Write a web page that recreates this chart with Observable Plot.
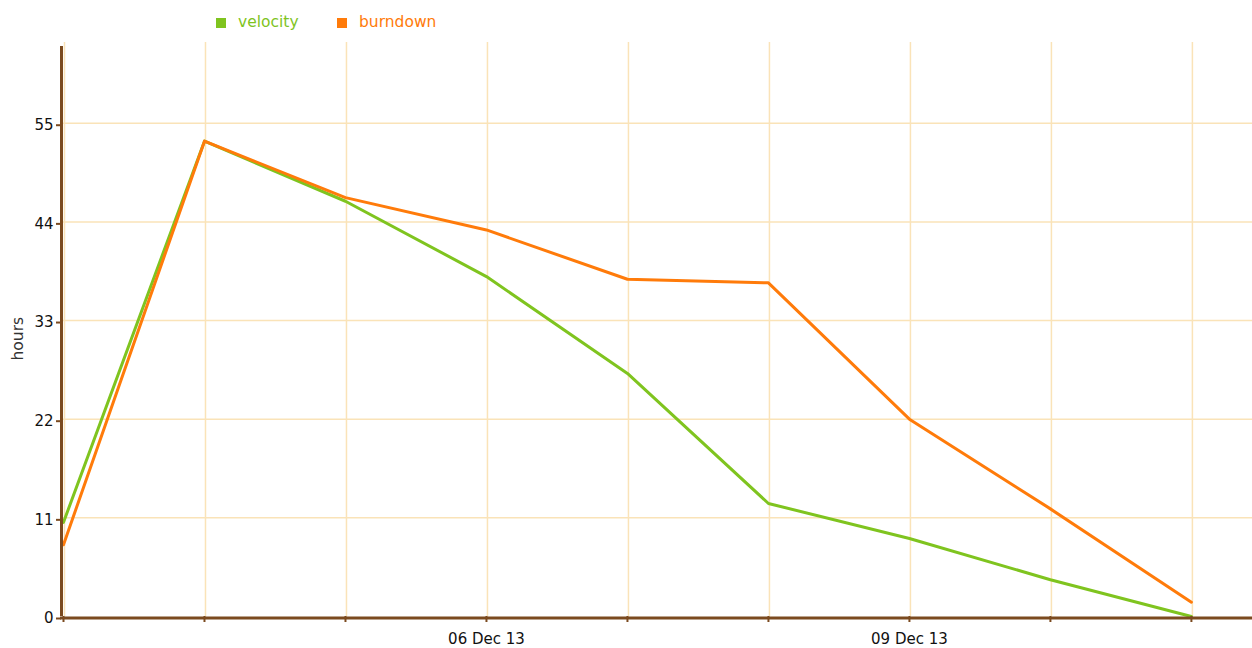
<!DOCTYPE html>
<html>
<head>
<meta charset="utf-8">
<script src="https://cdn.jsdelivr.net/npm/d3@7"></script>
<script src="https://cdn.jsdelivr.net/npm/@observablehq/plot@0.6"></script>
<style>
  html, body { margin: 0; padding: 0; background: #fff; }
  body { width: 1252px; height: 648px; overflow: hidden; font-family: "DejaVu Sans", sans-serif; }
  #legend { position: relative; height: 40px; font-size: 15.5px; }
  #legend .sw { position: absolute; width: 10px; height: 10px; top: 18px; }
  #legend .lb { position: absolute; top: 12px; line-height: 20px; }
</style>
</head>
<body>
<div id="legend"></div>
<div id="chart"></div>
<script>
const dates = ["2013-12-03","2013-12-04","2013-12-05","2013-12-06","2013-12-07","2013-12-08","2013-12-09","2013-12-10","2013-12-11"];
const velocity = [10.5, 53.0, 46.3, 37.9, 27.1, 12.6, 8.7, 4.1, 0];
const burndown = [8.0, 53.0, 46.7, 43.1, 37.6, 37.2, 22.0, 12.0, 1.6];
const seriesNames = ["velocity", "burndown"];
const seriesColors = ["#7fc41f", "#ff7b0a"];
const yTicks = [0, 11, 22, 33, 44, 55];
const yGrid = [11, 22, 33, 44, 55];
const xLabelDates = ["2013-12-06", "2013-12-09"];

const parse = d3.utcParse("%Y-%m-%d");
const dayDates = dates.map(parse);
const rows = [];
dates.forEach((d, i) => {
  rows.push({date: parse(d), value: velocity[i], series: seriesNames[0]});
  rows.push({date: parse(d), value: burndown[i], series: seriesNames[1]});
});

const axisColor = "#7b4a1f";
const gridColor = "#fae3b8";
const xEnd = new Date(Date.UTC(2013, 11, 11, 10, 24));

// legend
const leg = document.getElementById("legend");
const legPos = [[216, 238], [337, 359]];
seriesNames.forEach((n, i) => {
  const sw = document.createElement("div");
  sw.className = "sw"; sw.style.left = legPos[i][0] + "px"; sw.style.background = seriesColors[i];
  const lb = document.createElement("div");
  lb.className = "lb"; lb.style.left = legPos[i][1] + "px"; lb.style.color = seriesColors[i];
  lb.textContent = n;
  leg.appendChild(sw); leg.appendChild(lb);
});

const chart = Plot.plot({
  width: 1252,
  height: 608,
  marginLeft: 63,
  marginRight: 0,
  marginTop: 2,
  marginBottom: 32,
  style: {fontFamily: "DejaVu Sans, sans-serif", fontSize: "15px", color: "#111", background: "#fff"},
  x: {type: "utc", domain: [dayDates[0], xEnd], axis: null},
  y: {domain: [0, 64], axis: null},
  color: {domain: seriesNames, range: seriesColors},
  marks: [
    Plot.ruleY(yGrid, {stroke: gridColor, strokeWidth: 1.5}),
    Plot.ruleX(dayDates, {stroke: gridColor, strokeWidth: 1.5, dx: 1}),
    Plot.lineY(rows, {x: "date", y: "value", z: "series", stroke: "series", strokeWidth: 3, strokeLinejoin: "round"}),
    Plot.ruleX([dayDates[0]], {y1: 0, y2: 64, stroke: axisColor, strokeWidth: 3, dx: -2, insetBottom: -4}),
    Plot.ruleY([0], {stroke: axisColor, strokeWidth: 3, dy: 1.5, insetLeft: -3}),
    Plot.axisY({ticks: yTicks, tickSize: 5, stroke: axisColor, strokeWidth: 2, tickPadding: 3, dx: -2, dy: 2, fill: "#111", fontSize: 15, label: null}),
    Plot.axisX({ticks: dayDates, tickSize: 6, stroke: axisColor, strokeWidth: 2, tickFormat: () => "", label: null}),
    Plot.axisX({ticks: xLabelDates.map(parse), tickSize: 0, tickPadding: 17, tickFormat: d3.utcFormat("%d %b %y"), fill: "#111", fontSize: 15, label: null}),
    Plot.text(["hours"], {frameAnchor: "left", dx: -45, dy: 31, rotate: -90, fontSize: 15.5, fill: "#333"})
  ]
});
document.getElementById("chart").appendChild(chart);
</script>
</body>
</html>
